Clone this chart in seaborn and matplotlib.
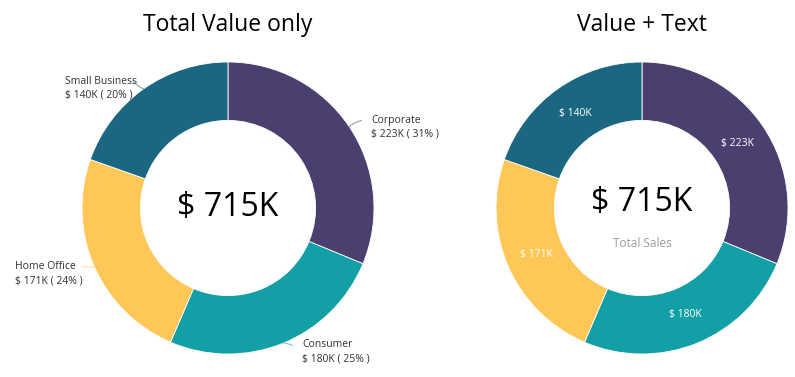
import matplotlib.pyplot as plt
import seaborn as sns
import numpy as np

# Sales by segment (in $K)
segments = ["Corporate", "Consumer", "Home Office", "Small Business"]
sales = [223, 180, 171, 140]
total_label = "$ 715K"
colors = ["#4A3F6F", "#12A0A6", "#FFC757", "#1B6680"]

# label positions (left chart) in data units of the donut
label_pos = {
    "Corporate": (0.98, 0.555),
    "Consumer": (0.51, -0.985),
    "Home Office": (-1.46, -0.45),
    "Small Business": (-1.115, 0.82),
}

sns.set_theme(style="white")
plt.rcParams['font.family'] = ['Open Sans', 'DejaVu Sans']

fig = plt.figure(figsize=(7.95, 3.77), dpi=100)
W, H = 795, 377
R = 146


def donut_axes(cx, cy):
    # square axes centred on (cx, cy) pixels, donut radius R
    return fig.add_axes([(cx - R) / W, (H - cy - R) / H, 2 * R / W, 2 * R / H])


total = sum(sales)
wprops = dict(width=0.4, edgecolor="white", linewidth=0.6)

# ---- left: total value only
ax1 = donut_axes(228, 208)
wedges, _ = ax1.pie(sales, colors=colors, startangle=90, counterclock=False,
                    wedgeprops=wprops)
ax1.set_xlim(-1, 1)
ax1.set_ylim(-1, 1)
for w, name, val, c in zip(wedges, segments, sales, colors):
    ang = np.deg2rad((w.theta1 + w.theta2) / 2)
    tx, ty = label_pos[name]
    txt = f"{name}\n$ {val}K ( {round(val / total * 100)}% )"
    ax1.text(tx, ty, txt, ha="left", va="center", fontsize=7.5,
             color="#333333", linespacing=1.35)
    # short leader line out of the slice, bending toward the label
    side = 1 if np.cos(ang) > 0 else -1
    end = (1.04 * np.cos(ang) + side * 0.05, 1.04 * np.sin(ang) + 0.02)
    ax1.annotate("", xy=(np.cos(ang), np.sin(ang)), xytext=end,
                 arrowprops=dict(arrowstyle="-", color=c, alpha=0.55, lw=0.8,
                                 connectionstyle="arc3,rad=0.15",
                                 shrinkA=0, shrinkB=0))
ax1.text(0, 0, total_label, ha="center", va="center", fontsize=23, color="black")

# ---- right: value + text
ax2 = donut_axes(642, 208)
wedges2, _ = ax2.pie(sales, colors=colors, startangle=90, counterclock=False,
                     wedgeprops=wprops)
ax2.set_xlim(-1, 1)
ax2.set_ylim(-1, 1)
for w, val in zip(wedges2, sales):
    ang = np.deg2rad((w.theta1 + w.theta2) / 2)
    ax2.text(0.79 * np.cos(ang), 0.79 * np.sin(ang), f"$ {val}K",
             ha="center", va="center", fontsize=7.5, color="white")
ax2.text(0, 0.04, total_label, ha="center", va="center", fontsize=23, color="black")
ax2.text(0, -0.24, "Total Sales", ha="center", va="center", fontsize=8.5, color="#9a9a9a")

# titles
fig.text(228 / W, 1 - 25 / H, "Total Value only", ha="center", va="center",
         fontsize=16.5, color="black")
fig.text(642 / W, 1 - 25 / H, "Value + Text", ha="center", va="center",
         fontsize=16.5, color="black")

fig.savefig("out.png", dpi=100, facecolor="white")
